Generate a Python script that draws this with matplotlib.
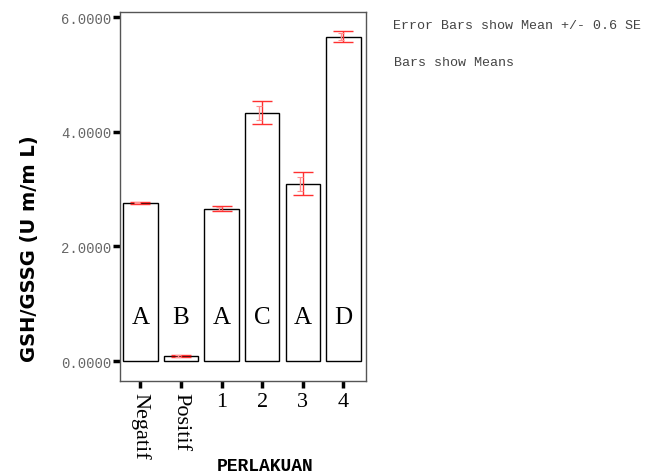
import numpy as np
import matplotlib.pyplot as plt

categories = ["Negatif", "Positif", "1", "2", "3", "4"]
means = [2.76, 0.09, 2.66, 4.33, 3.09, 5.66]
errors = [0.02, 0.02, 0.05, 0.20, 0.20, 0.10]
letters = ["A", "B", "A", "C", "A", "D"]

fig = plt.figure(figsize=(6.52, 4.77), dpi=100)
ax = fig.add_axes([0.184, 0.199, 0.377, 0.774])

x = np.arange(len(categories))
ax.bar(x, means, width=0.85, color="white", edgecolor="black", linewidth=1.0, zorder=2)
ax.errorbar(x, means, yerr=errors, fmt="none", ecolor="#ff3030", elinewidth=1.0,
            capsize=7, capthick=1.0, zorder=3)
# faint inner marks
ax.errorbar(x - 0.07, means, yerr=[e * 0.6 for e in errors], fmt="none", ecolor="#ff9090",
            elinewidth=1.0, capsize=2, capthick=0.8, zorder=3)

for xi, lab in zip(x, letters):
    ax.text(xi, 0.77, lab, ha="center", va="center", family="Liberation Serif",
            fontsize=18, zorder=4)

ax.set_xlim(-0.5, 5.55)
ax.set_ylim(-0.35, 6.09)
ax.set_yticks([0, 2, 4, 6])
ax.set_yticklabels(["%.4f" % v for v in [0, 2, 4, 6]], family="Liberation Mono",
                   fontsize=10, color="#666666")
ax.set_xticks(x)
ax.set_xticklabels(categories, family="Liberation Serif", fontsize=16)
for lbl in ax.get_xticklabels()[:2]:
    lbl.set_rotation(-90)
    lbl.set_va("top")
ax.tick_params(axis="y", direction="out", length=5, width=2.5, color="black", pad=1)
ax.tick_params(axis="x", direction="out", length=5, width=2.5, color="black", pad=3)
for sp in ax.spines.values():
    sp.set_color("#555555")
    sp.set_linewidth(1.0)

ax.set_ylabel("GSH/GSSG (U m/m L)", fontsize=14, fontweight="bold",
              family="DejaVu Sans")
ax.yaxis.set_label_coords(-0.33, 0.36)
fig.text(0.406, 0.005, "PERLAKUAN", family="Liberation Mono", fontweight="bold",
         fontsize=13, ha="center", va="bottom")

fig.text(0.602, 0.945, "Error Bars show Mean +/- 0.6 SE", family="Liberation Mono",
         fontsize=9.6, color="#444444", va="center")
fig.text(0.604, 0.868, "Bars show Means", family="Liberation Mono",
         fontsize=9.6, color="#444444", va="center")

fig.savefig("out.png", dpi=100)
